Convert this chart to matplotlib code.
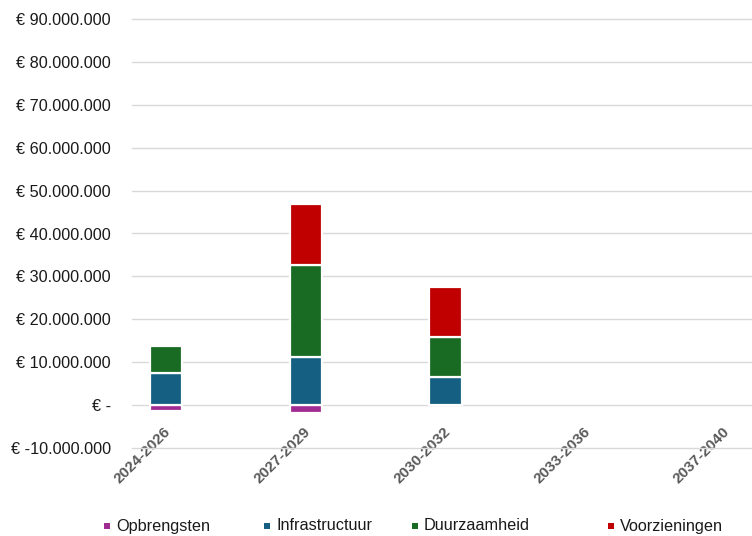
import matplotlib
matplotlib.use("Agg")
import matplotlib.pyplot as plt
import matplotlib.transforms as mtransforms
from matplotlib.patches import Rectangle
from matplotlib.ticker import FuncFormatter, MultipleLocator

plt.rcParams["font.family"] = ["Liberation Sans", "DejaVu Sans"]

periods = ["2024-2026", "2027-2029", "2030-2032", "2033-2036", "2037-2040"]
opbrengsten = [-1.5e6, -2.0e6, 0, 0, 0]
infrastructuur = [7.35e6, 11.2e6, 6.6e6, 0, 0]
duurzaamheid = [6.45e6, 21.5e6, 9.3e6, 0, 0]
voorzieningen = [0, 14.2e6, 11.5e6, 0, 0]

series = [
    ("Opbrengsten", opbrengsten, "#A02B93"),
    ("Infrastructuur", infrastructuur, "#156082"),
    ("Duurzaamheid", duurzaamheid, "#196B24"),
    ("Voorzieningen", voorzieningen, "#C00000"),
]


def euro(v, _pos=None):
    if abs(v) < 1:
        return "€ -"
    s = f"{abs(v):,.0f}".replace(",", ".")
    return f"€ -{s}" if v < 0 else f"€ {s}"


W, H = 752, 536
fig = plt.figure(figsize=(W / 100, H / 100), dpi=100)
ax = fig.add_axes([131.7 / W, 1 - 447.7 / H, 1 - 131.7 / W, 428.4 / H])

width = 0.231
pos_base = [0.0] * len(periods)
neg_base = [0.0] * len(periods)
for name, vals, color in series:
    xs, hs, bs = [], [], []
    for i, v in enumerate(vals):
        if v == 0:
            continue
        base = pos_base if v > 0 else neg_base
        xs.append(i)
        hs.append(v)
        bs.append(base[i])
        base[i] += v
    ax.bar(xs, hs, width, bottom=bs, color=color, edgecolor="white",
           linewidth=1.6, zorder=3)

ax.set_xlim(-0.2455, 4.195)
ax.set_ylim(-10e6, 90e6)
ax.yaxis.set_major_locator(MultipleLocator(10e6))
ax.yaxis.set_major_formatter(FuncFormatter(euro))
ax.grid(axis="y", color="#D9D9D9", linewidth=1.0, zorder=0)
for gl in ax.get_ygridlines():
    gl.set_clip_on(False)
for side in ("top", "right", "left"):
    ax.spines[side].set_visible(False)
ax.spines["bottom"].set_position(("data", 0))
ax.spines["bottom"].set_visible(False)
ax.tick_params(axis="y", length=0, pad=15, labelsize=11.7, labelcolor="#1a1a1a")
ax.tick_params(axis="x", length=0, pad=18, labelsize=11, labelcolor="#595959")

ax.set_xticks(range(len(periods)))
ax.set_xticklabels(periods, rotation=45, ha="right", va="center",
                   rotation_mode="anchor", fontweight="bold")
shift = mtransforms.ScaledTranslation(2 / 72, 0, fig.dpi_scale_trans)
for lbl in ax.get_xticklabels():
    lbl.set_transform(lbl.get_transform() + shift)

# legend row along the bottom edge
legend_x = [107, 267, 415, 611]
legend_y = 526
sq = 6
for (name, _, color), lx in zip(series, legend_x):
    fig.add_artist(Rectangle(((lx - sq / 2) / W, 1 - (legend_y + sq / 2) / H),
                             sq / W, sq / H, transform=fig.transFigure,
                             facecolor=color, edgecolor="none"))
    fig.text((lx + 9) / W, 1 - legend_y / H, name, fontsize=11.7,
             color="#1a1a1a", ha="left", va="center")

fig.savefig("out.png", dpi=100, facecolor="white")
